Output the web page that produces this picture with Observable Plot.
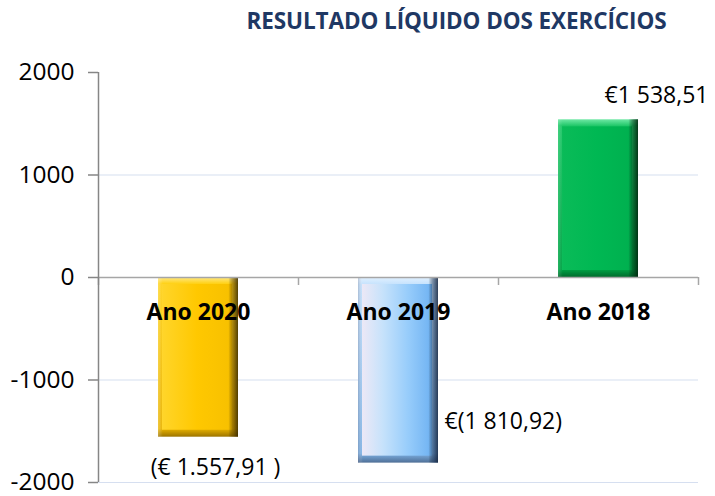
<!DOCTYPE html>
<html><head><meta charset="utf-8">
<script src="https://cdn.jsdelivr.net/npm/d3@7"></script>
<script src="https://cdn.jsdelivr.net/npm/@observablehq/plot@0.6"></script>
<style>
body{margin:0;background:#fff;}
#title{height:40px;width:715px;box-sizing:border-box;padding-left:198px;display:flex;align-items:center;justify-content:center;font:bold 22.5px "Open Sans";color:#1f3864;letter-spacing:-0.1px;}
</style></head><body>
<div id="title">RESULTADO LÍQUIDO DOS EXERCÍCIOS</div>
<div id="chart"></div>
<script>
const categories = ["Ano 2020", "Ano 2019", "Ano 2018"];
const values = [-1557.91, -1810.92, 1538.51];
const valueLabels = ["(€ 1.557,91 )", "€(1 810,92)", "€1 538,51"];
const yTicks = [-2000, -1000, 0, 1000, 2000];
const gridTicks = [-2000, -1000, 1000];

const rows = categories.map((c, i) => ({c, i, v: values[i], label: valueLabels[i]}));
const boundaries = d3.range(categories.length + 1).map(k => k - 0.5);
const half = 0.2;

const palettes = [
  { bevel: [[0,"#ffe98a"],[0.04,"#ffd21a"],[0.95,"#e9b300"],[1,"#9c7400"]],
    face:  [[0,"#ffd52a"],[0.5,"#ffc800"],[1,"#f7c000"]],
    edge:  [[0,"rgba(255,255,255,0.25)"],[0.06,"rgba(255,255,255,0)"],[0.88,"rgba(0,0,0,0)"],[0.94,"rgba(60,40,0,0.45)"],[1,"rgba(40,30,0,0.8)"]] },
  { bevel: [[0,"#e2f1ff"],[0.04,"#c5e2fd"],[0.95,"#7fb3e6"],[1,"#4f6f96"]],
    face:  [[0,"#ece8f6"],[0.3,"#c6e2fb"],[0.65,"#98cdfb"],[1,"#6fb2f2"]],
    edge:  [[0,"rgba(120,120,140,0.35)"],[0.06,"rgba(255,255,255,0)"],[0.88,"rgba(0,0,0,0)"],[0.94,"rgba(20,40,70,0.5)"],[1,"rgba(20,35,60,0.85)"]] },
  { bevel: [[0,"#6ee8a4"],[0.04,"#22c86a"],[0.95,"#00a446"],[1,"#006b2c"]],
    face:  [[0,"#0abb58"],[0.5,"#00b853"],[1,"#00b04f"]],
    edge:  [[0,"rgba(255,255,255,0.15)"],[0.06,"rgba(255,255,255,0)"],[0.88,"rgba(0,0,0,0)"],[0.94,"rgba(0,40,15,0.5)"],[1,"rgba(0,30,10,0.85)"]] }
];

const labelStyles = [
  {dx: 17, dy: 30, textAnchor: "middle"},
  {dx: 46, dy: -41, textAnchor: "start"},
  {dx: 58, dy: -24, textAnchor: "middle"}
];

function defsMark() {
  const ns = "http://www.w3.org/2000/svg";
  const defs = document.createElementNS(ns, "defs");
  const add = (id, vertical, stops) => {
    const g = document.createElementNS(ns, "linearGradient");
    g.setAttribute("id", id);
    g.setAttribute("x1", "0"); g.setAttribute("y1", "0");
    g.setAttribute("x2", vertical ? "0" : "1"); g.setAttribute("y2", vertical ? "1" : "0");
    stops.forEach(([o, c]) => {
      const s = document.createElementNS(ns, "stop");
      s.setAttribute("offset", o);
      s.setAttribute("stop-color", c);
      g.appendChild(s);
    });
    defs.appendChild(g);
  };
  palettes.forEach((p, i) => {
    add(`bev${i}`, true, p.bevel);
    add(`face${i}`, false, p.face);
    add(`edge${i}`, false, p.edge);
  });
  return defs;
}

const barPos = {x1: d => d.i - half, x2: d => d.i + half, y1: 0, y2: "v"};

const chart = Plot.plot({
  width: 715,
  height: 456,
  marginTop: 32,
  marginBottom: 14,
  marginLeft: 98,
  marginRight: 17,
  style: {fontFamily: "Open Sans", fontSize: "23px", color: "black", background: "white"},
  x: {domain: [boundaries[0], boundaries[boundaries.length - 1]], axis: null},
  y: {domain: [d3.min(yTicks), d3.max(yTicks)]},
  marks: [
    defsMark,
    Plot.ruleY(gridTicks, {stroke: "#d6dff0", strokeWidth: 1.2}),
    ...rows.flatMap(r => [
      Plot.rect([r], {...barPos, fill: `url(#bev${r.i})`}),
      Plot.rect([r], {...barPos, fill: `url(#face${r.i})`, insetLeft: 4, insetRight: 6, insetTop: 7, insetBottom: 7}),
      Plot.rect([r], {...barPos, fill: `url(#edge${r.i})`})
    ]),
    Plot.ruleY([0], {stroke: "#a6a6a6", strokeWidth: 1.5}),
    Plot.ruleX(boundaries, {y1: 0, y2: 0, insetBottom: -8, stroke: "#a6a6a6", strokeWidth: 1.5}),
    Plot.ruleX([boundaries[0]], {y1: d3.min(yTicks), y2: d3.max(yTicks), stroke: "#868686", strokeWidth: 1.5}),
    Plot.axisY(yTicks, {tickSize: 10, tickPadding: 14, stroke: "#868686", fill: "black", fontSize: 24.5, label: null, strokeWidth: 1.5, tickFormat: d => String(d)}),
    Plot.text(rows, {x: "i", y: 0, text: "c", dy: 35, fontWeight: "bold", fontSize: 23, fill: "black"}),
    ...rows.map((r, k) => Plot.text([r], {x: "i", y: "v", text: "label", fontSize: 23, fill: "black", ...labelStyles[k]}))
  ]
});
document.getElementById("chart").appendChild(chart);
</script>
</body></html>
